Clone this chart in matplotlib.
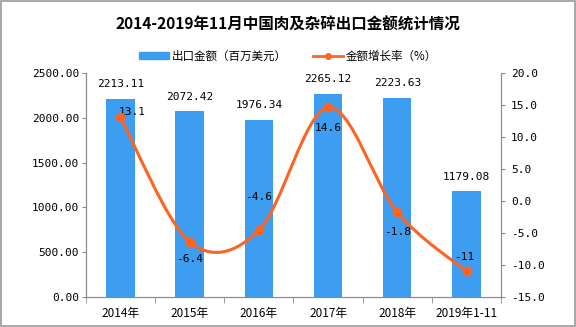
import numpy as np
import matplotlib.pyplot as plt
from matplotlib.path import Path
from matplotlib.patches import PathPatch, Rectangle
from matplotlib.lines import Line2D

plt.rcParams['font.family'] = ['Noto Sans CJK SC', 'DejaVu Sans']

years = ['2014年', '2015年', '2016年', '2017年', '2018年', '2019年1-11']
export_value = [2213.11, 2072.42, 1976.34, 2265.12, 2223.63, 1179.08]
growth_rate = [13.1, -6.4, -4.6, 14.6, -1.8, -11]
growth_labels = ['13.1', '-6.4', '-4.6', '14.6', '-1.8', '-11']

BAR_COLOR = '#3d9df0'
LINE_COLOR = '#ff6321'
AXIS_COLOR = '#8c8c8c'


def smooth_path(x, y, k=0.5):
    # catmull-rom style bezier through the data points (like echarts smooth)
    x = np.asarray(x, float)
    y = np.asarray(y, float)
    n = len(x)
    verts = [(x[0], y[0])]
    codes = [Path.MOVETO]
    for i in range(n - 1):
        p0 = (x[i - 1], y[i - 1]) if i > 0 else (x[i], y[i])
        p1 = (x[i], y[i])
        p2 = (x[i + 1], y[i + 1])
        p3 = (x[i + 2], y[i + 2]) if i + 2 < n else p2
        c1 = (p1[0] + (p2[0] - p0[0]) * k / 3, p1[1] + (p2[1] - p0[1]) * k / 3)
        c2 = (p2[0] - (p3[0] - p1[0]) * k / 3, p2[1] - (p3[1] - p1[1]) * k / 3)
        verts += [c1, c2, p2]
        codes += [Path.CURVE4] * 3
    return Path(verts, codes)


fig = plt.figure(figsize=(5.76, 3.27), dpi=100)
ax = fig.add_axes([0.149, 0.092, 0.721, 0.685])
ax2 = ax.twinx()

x = np.arange(len(years))
ax.bar(x, export_value, width=0.41, color=BAR_COLOR, zorder=2)
for xi, v in zip(x, export_value):
    ax.annotate(f'{v:.2f}', (xi, v), xytext=(0, 7), textcoords='offset points',
                ha='center', va='bottom', fontsize=8, family='DejaVu Sans Mono')

ax.set_xlim(-0.5, len(years) - 0.5)
ax.set_ylim(0, 2500)
ax.set_yticks(np.arange(0, 2501, 500))
ax.set_yticklabels([f'{v:.2f}' for v in np.arange(0, 2501, 500)],
                   family='DejaVu Sans Mono', fontsize=8)
ax.set_xticks(x)
ax.set_xticklabels(years, fontsize=8.5)
ax.set_xticks(np.arange(-0.5, len(years), 1), minor=True)
ax.tick_params(axis='x', which='major', length=0, pad=7)
ax.tick_params(axis='x', which='minor', length=4, color=AXIS_COLOR)
ax.tick_params(axis='y', length=3, color=AXIS_COLOR, pad=2)

ax2.set_ylim(-15, 20)
ax2.set_yticks(np.arange(-15, 21, 5))
ax2.set_yticklabels([f'{v:.1f}' for v in np.arange(-15, 21, 5)],
                    family='DejaVu Sans Mono', fontsize=8)
ax2.tick_params(axis='y', length=3, color=AXIS_COLOR, pad=4)

for a in (ax, ax2):
    a.spines['top'].set_visible(False)
    for s in ('left', 'right', 'bottom'):
        a.spines[s].set_color(AXIS_COLOR)

ax2.add_patch(PathPatch(smooth_path(x, growth_rate), facecolor='none',
                        edgecolor=LINE_COLOR, lw=2.2, zorder=3))
ax2.plot(x, growth_rate, 'o', color=LINE_COLOR, ms=6, zorder=4)

# label placement for each growth value: (dx, dy) in points, horizontal align
offsets = [(-1, 4, 'left'), (0, -12, 'center'), (0, 24, 'center'),
           (0, -15, 'center'), (0, -14, 'center'), (-2, 10, 'center')]
for xi, v, lab, (dx, dy, ha) in zip(x, growth_rate, growth_labels, offsets):
    ax2.annotate(lab, (xi, v), xytext=(dx, dy), textcoords='offset points',
                 ha=ha, va='center', fontsize=8, family='DejaVu Sans Mono')

fig.text(0.5, 0.924, '2014-2019年11月中国肉及杂碎出口金额统计情况',
         ha='center', va='center', fontsize=11.2, fontweight='bold')

handles = [Rectangle((0, 0), 1, 1, color=BAR_COLOR),
           Line2D([], [], color=LINE_COLOR, lw=2, marker='o', ms=4)]
fig.legend(handles, ['出口金额（百万美元）', '金额增长率（%）'], loc='center',
           bbox_to_anchor=(0.5, 0.829), ncol=2, frameon=False, fontsize=8.3,
           handlelength=2.6, handleheight=0.5, columnspacing=2.2, handletextpad=0.3)

fig.patches.append(Rectangle((0.001, 0.002), 0.997, 0.996, transform=fig.transFigure,
                             fill=False, edgecolor='#999999', lw=1.2))

fig.savefig('out.png', dpi=100)
